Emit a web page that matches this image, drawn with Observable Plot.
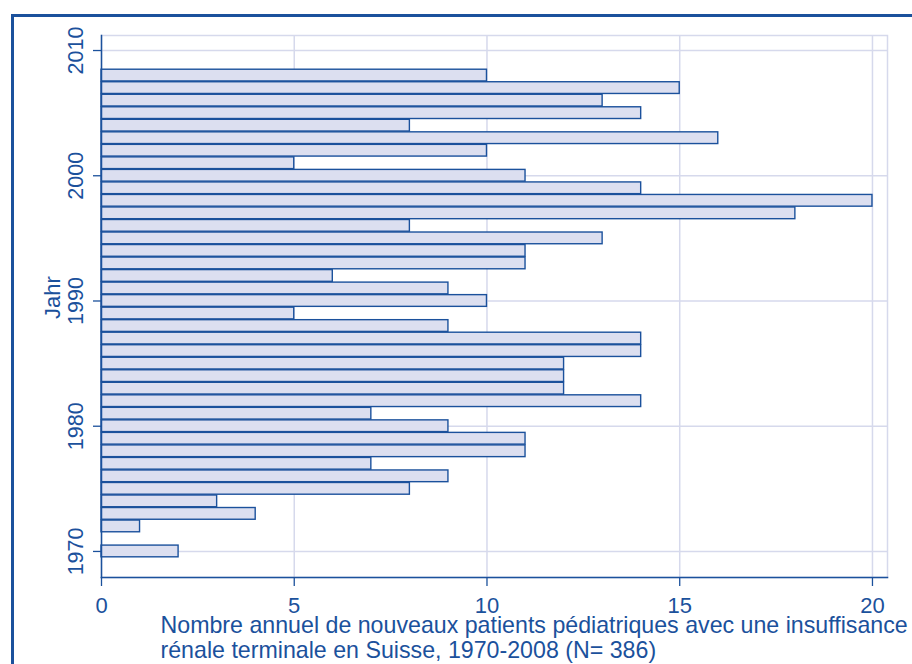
<!DOCTYPE html>
<html><head><meta charset="utf-8">
<script src="https://cdn.jsdelivr.net/npm/d3@7"></script>
<script src="https://cdn.jsdelivr.net/npm/@observablehq/plot@0.6"></script>
<style>
body{margin:0;background:#fff;}
#wrap{position:relative;width:912px;height:664px;overflow:hidden;background:#fff;}
#border{position:absolute;left:11px;top:14px;width:940px;height:700px;border-top:3px solid #1b519c;border-left:3px solid #1b519c;z-index:2;pointer-events:none;}
#wrap svg{position:absolute;left:0;top:0;}
</style></head><body><div id="wrap"><div id="border"></div></div>
<script>
const years = [1970,1971,1972,1973,1974,1975,1976,1977,1978,1979,1980,1981,1982,1983,1984,1985,1986,1987,1988,1989,1990,1991,1992,1993,1994,1995,1996,1997,1998,1999,2000,2001,2002,2003,2004,2005,2006,2007,2008];
const counts = [2,0,1,4,3,8,9,7,11,11,9,7,14,12,12,12,14,14,9,5,10,9,6,11,11,13,8,18,20,14,11,5,10,16,8,14,13,15,10];
const yearTicks = [1970,1980,1990,2000,2010];
const countTicks = [0,5,10,15,20];
const yLabel = "Jahr";
const caption = "Nombre annuel de nouveaux patients pédiatriques avec une insuffisance\nrénale terminale en Suisse, 1970-2008 (N= 386)";

const dark = "#1b519c";
const fillC = "#dcdff0";
const gridC = "#d6d9ec";

const data = years.map((year, i) => ({year, n: counts[i]})).filter(d => d.n > 0);

const chart = Plot.plot({
  width: 912,
  height: 664,
  marginLeft: 101,
  marginRight: 25,
  marginTop: 35,
  marginBottom: 87,
  style: {color: dark, fontFamily: "'Liberation Sans', Arial, sans-serif", fontSize: "21px", background: "transparent"},
  x: {domain: [0, 20.39], label: null},
  y: {domain: [1967.92, 2011.2], label: null},
  marks: [
    Plot.gridX(countTicks.slice(1), {stroke: gridC, strokeOpacity: 1, strokeWidth: 1.5}),
    Plot.gridY(yearTicks, {stroke: gridC, strokeOpacity: 1, strokeWidth: 1.5}),
    Plot.frame({stroke: gridC, strokeWidth: 1.5}),
    Plot.rectX(data, {x1: 0, x2: "n", y1: d => d.year - 0.5, y2: d => d.year + 0.5, fill: fillC, stroke: dark, strokeWidth: 1.4, insetTop: 0.4, insetBottom: 0.4}),
    Plot.frame({anchor: "left", stroke: dark, strokeWidth: 1.5}),
    Plot.frame({anchor: "bottom", stroke: dark, strokeWidth: 1.5}),
    Plot.axisX({ticks: countTicks, tickSize: 9, tickPadding: 11, fontSize: 22, label: null, strokeWidth: 1.3}),
    Plot.axisY({ticks: yearTicks, tickFormat: "d", tickSize: 8, tickPadding: 11, tickRotate: -90, fontSize: 21.5, label: null, strokeWidth: 1.3}),
    Plot.text([yLabel], {frameAnchor: "left", textAnchor: "middle", rotate: -90, dx: -49, dy: -9, fontSize: 22, fill: dark}),
    Plot.text([caption], {frameAnchor: "bottom-left", textAnchor: "start", lineAnchor: "top", dx: 59, dy: 38, lineHeight: 1.06, fontSize: 23.2, fill: dark})
  ]
});
document.getElementById("wrap").appendChild(chart);
</script>
</body></html>
